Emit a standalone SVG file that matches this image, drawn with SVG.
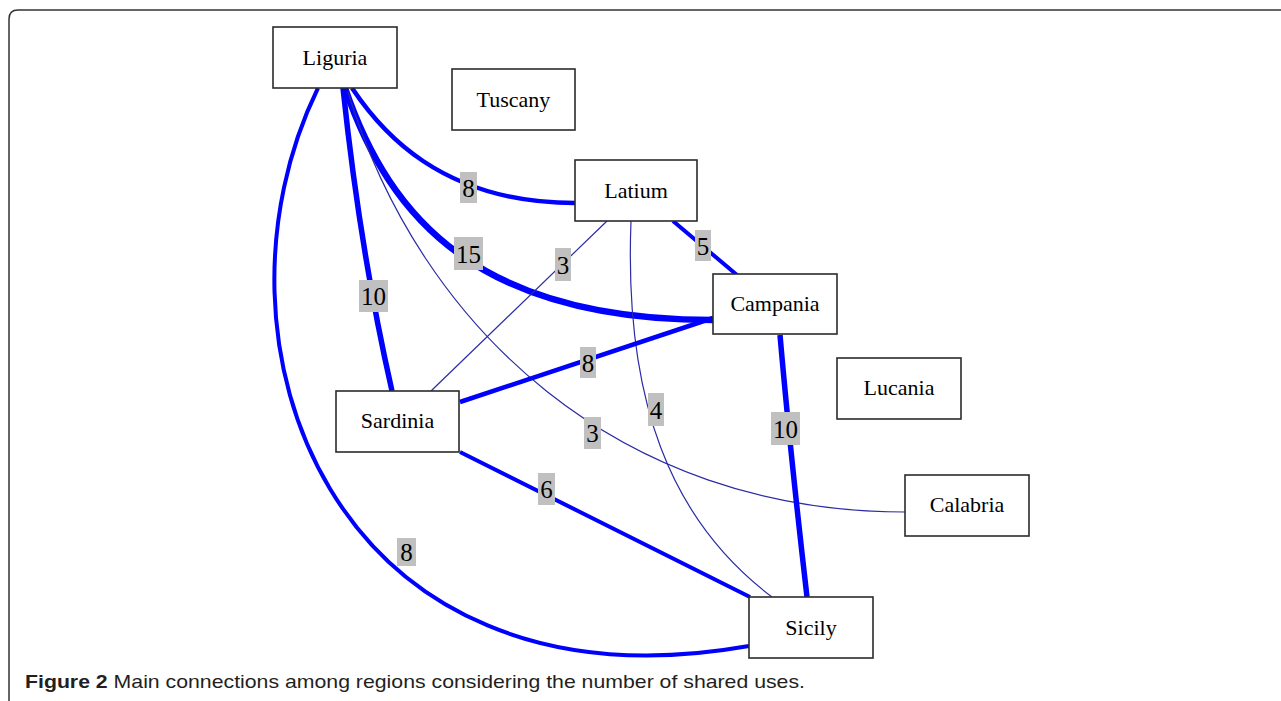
<svg xmlns="http://www.w3.org/2000/svg" width="1281" height="701" viewBox="0 0 1281 701">
<style>
.node rect{fill:#fff;stroke:#2b2b2b;stroke-width:1.6}
.node text{font-family:"Liberation Serif",serif;font-size:22px;fill:#000;text-anchor:middle}
.e{fill:none;stroke:#0000ff;stroke-linecap:butt}
.thin{fill:none;stroke:#2b2ba6;stroke-width:1.2}
.lbl rect{fill:#c0c0c0}
.lbl text{font-family:"Liberation Serif",serif;font-size:25px;fill:#000;text-anchor:middle}
</style>
<rect width="1281" height="701" fill="#fff"/>
<path d="M9,701 L9,19 Q9,10 18,10 L1281,10" fill="none" stroke="#333" stroke-width="1.5"/>

<g id="connectors">
  <!-- Liguria - Sicily (8) -->
  <path class="e" stroke-width="4" d="M318,88 C195,340 330,720 749,646"/>
  <!-- Liguria - Latium (8) -->
  <path class="e" stroke-width="4.5" d="M352,88 C380,130 440,203 575,203"/>
  <!-- Liguria - Campania (15) -->
  <path class="e" stroke-width="6.5" d="M345,88 C390,220 480,320 713,320"/>
  <!-- Liguria - Sardinia (10) -->
  <path class="e" stroke-width="5.5" d="M343,88 Q360,250 392,391"/>
  <!-- Liguria - Calabria (3) -->
  <path class="thin" d="M348,92 C420,330 620,512 905,512"/>
  <!-- Latium - Campania (5) -->
  <path class="e" stroke-width="4" d="M673,221 L737,275"/>
  <!-- Latium - Sardinia (3) -->
  <path class="thin" d="M607,221 L431,391"/>
  <!-- Latium - Sicily (4) -->
  <path class="thin" d="M631,221 C624,400 670,520 772,597"/>
  <!-- Campania - Sardinia (8) -->
  <path class="e" stroke-width="4.5" d="M713,318 L460,402"/>
  <!-- Campania - Sicily (10) -->
  <path class="e" stroke-width="5.5" d="M780,335 Q790,450 807,597"/>
  <!-- Sardinia - Sicily (6) -->
  <path class="e" stroke-width="4" d="M460,452 L750,597"/>

  <g class="lbl">
    <rect x="460" y="172" width="17" height="31"/><text x="468.5" y="196.5">8</text>
    <rect x="454" y="237" width="29" height="33"/><text x="468.5" y="262.5">15</text>
    <rect x="359" y="280" width="29" height="32"/><text x="373.5" y="305">10</text>
    <rect x="555" y="248" width="16" height="33"/><text x="563" y="273.5">3</text>
    <rect x="695" y="230" width="16" height="31"/><text x="703" y="254.5">5</text>
    <rect x="580" y="347" width="16" height="31"/><text x="588" y="371.5">8</text>
    <rect x="648" y="393" width="16" height="33"/><text x="656" y="418.5">4</text>
    <rect x="584" y="417" width="17" height="32"/><text x="592.5" y="442">3</text>
    <rect x="771" y="412" width="29" height="33"/><text x="785.5" y="437.5">10</text>
    <rect x="538" y="473" width="17" height="32"/><text x="546.5" y="498">6</text>
    <rect x="397" y="538" width="19" height="28"/><text x="406.5" y="560.5">8</text>
  </g>
</g>

<g id="liguria" class="node"><rect x="273" y="27" width="124" height="61"/><text x="335" y="65">Liguria</text></g>
<g id="tuscany" class="node"><rect x="452" y="69" width="123" height="61"/><text x="513.5" y="107">Tuscany</text></g>
<g id="latium" class="node"><rect x="575" y="160" width="122" height="61"/><text x="636" y="198">Latium</text></g>
<g id="campania" class="node"><rect x="713" y="274" width="124" height="60"/><text x="775" y="311">Campania</text></g>
<g id="lucania" class="node"><rect x="837" y="358" width="124" height="61"/><text x="899" y="395">Lucania</text></g>
<g id="calabria" class="node"><rect x="905" y="475" width="124" height="61"/><text x="967" y="512">Calabria</text></g>
<g id="sardinia" class="node"><rect x="336" y="391" width="123" height="61"/><text x="397.5" y="428">Sardinia</text></g>
<g id="sicily" class="node"><rect x="749" y="597" width="124" height="61"/><text x="811" y="635">Sicily</text></g>

<text x="25" y="688" font-family="Liberation Sans, sans-serif" font-size="19" fill="#231f20" textLength="780" lengthAdjust="spacingAndGlyphs"><tspan font-weight="bold">Figure 2</tspan> Main connections among regions considering the number of shared uses.</text>
</svg>
